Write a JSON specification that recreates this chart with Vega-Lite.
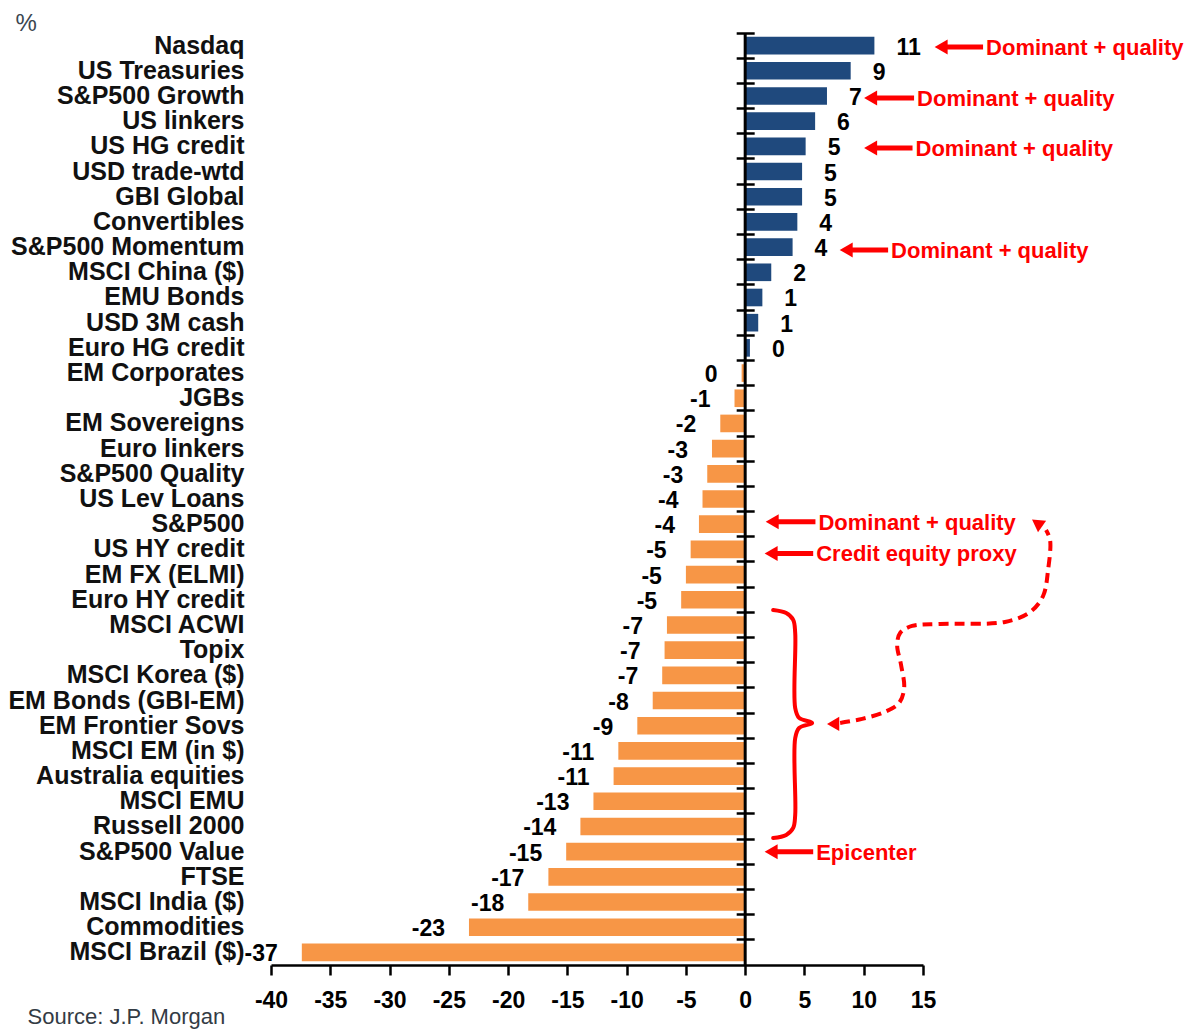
{
  "$schema": "https://vega.github.io/schema/vega-lite/v6.json",
  "autosize": {"type": "none"},
  "padding": {"left": 271, "top": 33, "right": 267, "bottom": 66},
  "width": 652,
  "height": 932,
  "config": {"view": {"stroke": null}},
  "datasets": {
    "assets": [
      {"asset": "Nasdaq", "value": 10.9, "label": "11"},
      {"asset": "US Treasuries", "value": 8.9, "label": "9"},
      {"asset": "S&P500 Growth", "value": 6.9, "label": "7"},
      {"asset": "US linkers", "value": 5.9, "label": "6"},
      {"asset": "US HG credit", "value": 5.1, "label": "5"},
      {"asset": "USD trade-wtd", "value": 4.8, "label": "5"},
      {"asset": "GBI Global", "value": 4.8, "label": "5"},
      {"asset": "Convertibles", "value": 4.4, "label": "4"},
      {"asset": "S&P500 Momentum", "value": 4.0, "label": "4"},
      {"asset": "MSCI China ($)", "value": 2.2, "label": "2"},
      {"asset": "EMU Bonds", "value": 1.45, "label": "1"},
      {"asset": "USD 3M cash", "value": 1.1, "label": "1"},
      {"asset": "Euro HG credit", "value": 0.4, "label": "0"},
      {"asset": "EM Corporates", "value": -0.3, "label": "0"},
      {"asset": "JGBs", "value": -0.9, "label": "-1"},
      {"asset": "EM Sovereigns", "value": -2.1, "label": "-2"},
      {"asset": "Euro linkers", "value": -2.8, "label": "-3"},
      {"asset": "S&P500 Quality", "value": -3.2, "label": "-3"},
      {"asset": "US Lev Loans", "value": -3.6, "label": "-4"},
      {"asset": "S&P500", "value": -3.9, "label": "-4"},
      {"asset": "US HY credit", "value": -4.6, "label": "-5"},
      {"asset": "EM FX (ELMI)", "value": -5.0, "label": "-5"},
      {"asset": "Euro HY credit", "value": -5.4, "label": "-5"},
      {"asset": "MSCI ACWI", "value": -6.6, "label": "-7"},
      {"asset": "Topix", "value": -6.8, "label": "-7"},
      {"asset": "MSCI Korea ($)", "value": -7.0, "label": "-7"},
      {"asset": "EM Bonds (GBI-EM)", "value": -7.8, "label": "-8"},
      {"asset": "EM Frontier Sovs", "value": -9.1, "label": "-9"},
      {"asset": "MSCI EM (in $)", "value": -10.7, "label": "-11"},
      {"asset": "Australia equities", "value": -11.1, "label": "-11"},
      {"asset": "MSCI EMU", "value": -12.8, "label": "-13"},
      {"asset": "Russell 2000", "value": -13.9, "label": "-14"},
      {"asset": "S&P500 Value", "value": -15.1, "label": "-15"},
      {"asset": "FTSE", "value": -16.6, "label": "-17"},
      {"asset": "MSCI India ($)", "value": -18.3, "label": "-18"},
      {"asset": "Commodities", "value": -23.3, "label": "-23"},
      {"asset": "MSCI Brazil ($)", "value": -37.4, "label": "-37"}
    ],
    "notes": [
      {"note": "Dominant + quality", "y": 0.56, "tip": 15.94, "tx": 20.32},
      {"note": "Dominant + quality", "y": 2.58, "tip": 9.99, "tx": 14.5},
      {"note": "Dominant + quality", "y": 4.57, "tip": 9.99, "tx": 14.37},
      {"note": "Dominant + quality", "y": 8.61, "tip": 7.93, "tx": 12.31},
      {"note": "Dominant + quality", "y": 19.4, "tip": 1.69, "tx": 6.18},
      {"note": "Credit equity proxy", "y": 20.66, "tip": 1.6, "tx": 5.99},
      {"note": "Epicenter", "y": 32.5, "tip": 1.6, "tx": 5.99}
    ],
    "brace": [
      {"order": 1, "x": 2.36, "y": 22.91},
      {"order": 2, "x": 3.46, "y": 23.03},
      {"order": 3, "x": 4.05, "y": 23.3},
      {"order": 4, "x": 4.22, "y": 23.82},
      {"order": 5, "x": 4.22, "y": 26.8},
      {"order": 6, "x": 4.55, "y": 27.19},
      {"order": 7, "x": 5.65, "y": 27.39},
      {"order": 8, "x": 4.55, "y": 27.59},
      {"order": 9, "x": 4.22, "y": 27.99},
      {"order": 10, "x": 4.22, "y": 31.04},
      {"order": 11, "x": 4.05, "y": 31.56},
      {"order": 12, "x": 3.46, "y": 31.84},
      {"order": 13, "x": 2.36, "y": 31.96}
    ],
    "dash": [
      {"order": 1, "x": 8.01, "y": 27.39},
      {"order": 2, "x": 9.87, "y": 27.23},
      {"order": 3, "x": 11.8, "y": 26.95},
      {"order": 4, "x": 12.98, "y": 26.6},
      {"order": 5, "x": 13.41, "y": 26.0},
      {"order": 6, "x": 13.15, "y": 25.09},
      {"order": 7, "x": 12.82, "y": 24.3},
      {"order": 8, "x": 13.07, "y": 23.82},
      {"order": 9, "x": 14.08, "y": 23.54},
      {"order": 10, "x": 16.44, "y": 23.46},
      {"order": 11, "x": 21.92, "y": 23.38},
      {"order": 12, "x": 24.03, "y": 22.99},
      {"order": 13, "x": 25.13, "y": 22.35},
      {"order": 14, "x": 25.55, "y": 21.32},
      {"order": 15, "x": 25.72, "y": 20.13},
      {"order": 16, "x": 25.38, "y": 19.73}
    ],
    "headLeft": [{"x": 7.42, "y": 27.43}],
    "headUp": [{"x": 24.62, "y": 19.45}]
  },
  "resolve": {"scale": {"y": "independent"}, "axis": {"y": "independent", "x": "independent"}},
  "layer": [
    {
      "data": {"name": "assets"},
      "mark": {"type": "bar"},
      "encoding": {
        "y": {
          "field": "asset", "type": "nominal", "sort": null,
          "scale": {"paddingInner": 0.3, "paddingOuter": 0.15},
          "axis": {
            "orient": "left", "domain": false, "ticks": false, "tickSize": 0,
            "labelPadding": 27, "labelLimit": 400,
            "labelFont": "Liberation Sans", "labelFontSize": 25, "labelFontWeight": "bold", "labelColor": "#111111",
            "title": "%", "titleAngle": 0, "titleAlign": "left", "titleBaseline": "alphabetic",
            "titleX": -256, "titleY": -3,
            "titleFont": "Liberation Sans", "titleFontSize": 24, "titleFontWeight": "normal", "titleColor": "#3a4650"
          }
        },
        "x": {
          "field": "value", "type": "quantitative",
          "scale": {"domain": [-40, 15], "nice": false, "zero": false},
          "axis": {
            "orient": "bottom",
            "values": [-40, -35, -30, -25, -20, -15, -10, -5, 0, 5, 10, 15],
            "labelExpr": "'' + datum.value",
            "grid": false, "domain": true, "domainColor": "#000000", "domainWidth": 2.5,
            "ticks": true, "tickColor": "#000000", "tickWidth": 2.5, "tickSize": 10,
            "labelFlush": false, "labelOverlap": false, "labelPadding": 14,
            "labelFont": "Liberation Sans", "labelFontSize": 23, "labelFontWeight": "bold", "labelColor": "#000000",
            "title": "Source: J.P. Morgan", "titleX": -244, "titleY": 58, "titleAlign": "left", "titleBaseline": "alphabetic", "titleAnchor": "start",
            "titleFont": "Liberation Sans", "titleFontSize": 22, "titleFontWeight": "normal", "titleColor": "#333b44"
          }
        },
        "color": {"condition": {"test": "datum.value > 0", "value": "#1F497D"}, "value": "#F79646"}
      }
    },
    {
      "data": {"values": [{}]},
      "mark": {"type": "rule", "strokeWidth": 3, "color": "#000000"},
      "encoding": {
        "x": {"datum": 0, "type": "quantitative", "scale": {"domain": [-40, 15], "nice": false, "zero": false}, "axis": null}
      }
    },
    {
      "data": {"name": "assets"},
      "mark": {"type": "point", "opacity": 0},
      "encoding": {
        "y": {
          "field": "asset", "type": "nominal", "sort": null,
          "scale": {"type": "band", "paddingInner": 0, "paddingOuter": 0},
          "axis": {
            "orient": "left", "offset": {"expr": "-(scale('x', 0) + 9)"},
            "domain": false, "labels": false, "ticks": true, "tickSize": 18, "tickWidth": 2.5, "tickColor": "#000000",
            "bandPosition": 0, "grid": false, "title": null
          }
        },
        "x": {"field": "value", "type": "quantitative", "scale": {"domain": [-40, 15], "nice": false, "zero": false}, "axis": null}
      }
    },
    {
      "data": {"name": "assets"},
      "mark": {"type": "text", "align": "left", "baseline": "middle", "dx": 22, "dy": 2,
        "font": "Liberation Sans", "fontSize": 23, "fontWeight": "bold", "color": "#000000"},
      "encoding": {
        "y": {"field": "asset", "type": "nominal", "sort": null, "axis": null},
        "x": {"field": "value", "type": "quantitative", "scale": {"domain": [-40, 15], "nice": false, "zero": false}, "axis": null},
        "text": {"condition": {"test": "datum.value > 0", "field": "label"}, "value": ""}
      }
    },
    {
      "data": {"name": "assets"},
      "mark": {"type": "text", "align": "right", "baseline": "middle", "dx": -24, "dy": 2,
        "font": "Liberation Sans", "fontSize": 23, "fontWeight": "bold", "color": "#000000"},
      "encoding": {
        "y": {"field": "asset", "type": "nominal", "sort": null, "axis": null},
        "x": {"field": "value", "type": "quantitative", "scale": {"domain": [-40, 15], "nice": false, "zero": false}, "axis": null},
        "text": {"condition": {"test": "datum.value <= 0", "field": "label"}, "value": ""}
      }
    },
    {
      "data": {"name": "notes"},
      "mark": {"type": "rule", "strokeWidth": 5, "color": "#FF0000", "xOffset": 10, "x2Offset": -3},
      "encoding": {
        "y": {"field": "y", "type": "quantitative", "scale": {"domain": [0, 37], "reverse": true, "nice": false, "zero": false}, "axis": null},
        "x": {"field": "tip", "type": "quantitative", "scale": {"domain": [-40, 15], "nice": false, "zero": false}, "axis": null},
        "x2": {"field": "tx"}
      }
    },
    {
      "data": {"name": "notes"},
      "mark": {"type": "point", "shape": "triangle-left", "filled": true, "size": 225, "opacity": 1, "color": "#FF0000", "xOffset": 7},
      "encoding": {
        "y": {"field": "y", "type": "quantitative", "scale": {"domain": [0, 37], "reverse": true, "nice": false, "zero": false}, "axis": null},
        "x": {"field": "tip", "type": "quantitative", "scale": {"domain": [-40, 15], "nice": false, "zero": false}, "axis": null}
      }
    },
    {
      "data": {"name": "notes"},
      "mark": {"type": "text", "align": "left", "baseline": "middle", "dy": 1,
        "font": "Liberation Sans", "fontSize": 22, "fontWeight": "bold", "color": "#FF0000"},
      "encoding": {
        "y": {"field": "y", "type": "quantitative", "scale": {"domain": [0, 37], "reverse": true, "nice": false, "zero": false}, "axis": null},
        "x": {"field": "tx", "type": "quantitative", "scale": {"domain": [-40, 15], "nice": false, "zero": false}, "axis": null},
        "text": {"field": "note"}
      }
    },
    {
      "data": {"name": "brace"},
      "mark": {"type": "line", "interpolate": "catmull-rom", "strokeWidth": 4, "color": "#FF0000", "strokeCap": "round"},
      "encoding": {
        "y": {"field": "y", "type": "quantitative", "scale": {"domain": [0, 37], "reverse": true, "nice": false, "zero": false}, "axis": null},
        "x": {"field": "x", "type": "quantitative", "scale": {"domain": [-40, 15], "nice": false, "zero": false}, "axis": null},
        "order": {"field": "order"}
      }
    },
    {
      "data": {"name": "dash"},
      "mark": {"type": "line", "interpolate": "catmull-rom", "strokeWidth": 4, "color": "#FF0000", "strokeDash": [10, 6]},
      "encoding": {
        "y": {"field": "y", "type": "quantitative", "scale": {"domain": [0, 37], "reverse": true, "nice": false, "zero": false}, "axis": null},
        "x": {"field": "x", "type": "quantitative", "scale": {"domain": [-40, 15], "nice": false, "zero": false}, "axis": null},
        "order": {"field": "order"}
      }
    },
    {
      "data": {"name": "headLeft"},
      "mark": {"type": "point", "shape": "triangle-left", "filled": true, "size": 200, "opacity": 1, "color": "#FF0000"},
      "encoding": {
        "y": {"field": "y", "type": "quantitative", "scale": {"domain": [0, 37], "reverse": true, "nice": false, "zero": false}, "axis": null},
        "x": {"field": "x", "type": "quantitative", "scale": {"domain": [-40, 15], "nice": false, "zero": false}, "axis": null}
      }
    },
    {
      "data": {"name": "headUp"},
      "mark": {"type": "point", "shape": "triangle-up", "angle": -55, "filled": true, "size": 200, "opacity": 1, "color": "#FF0000"},
      "encoding": {
        "y": {"field": "y", "type": "quantitative", "scale": {"domain": [0, 37], "reverse": true, "nice": false, "zero": false}, "axis": null},
        "x": {"field": "x", "type": "quantitative", "scale": {"domain": [-40, 15], "nice": false, "zero": false}, "axis": null}
      }
    }
  ]
}
